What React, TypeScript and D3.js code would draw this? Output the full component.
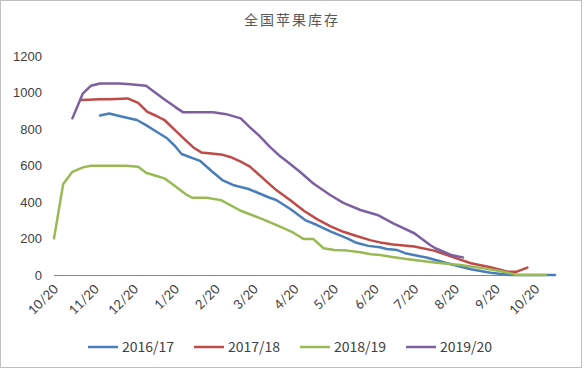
import React from 'react';
import * as d3 from 'd3';

type Pt = [string, number];

// 库存数据（万吨），日期按 2019/20 季度对齐
const s1617: Pt[] = [
  ['2019-11-24', 875], ['2019-12-01', 886], ['2019-12-11', 868], ['2019-12-22', 850],
  ['2019-12-29', 822], ['2020-01-06', 786], ['2020-01-14', 750], ['2020-01-20', 708],
  ['2020-01-25', 664], ['2020-02-08', 627], ['2020-02-17', 570], ['2020-02-25', 522],
  ['2020-03-04', 495], ['2020-03-16', 473], ['2020-03-22', 455], ['2020-04-01', 425],
  ['2020-04-06', 413], ['2020-04-17', 362], ['2020-04-28', 303], ['2020-05-07', 276],
  ['2020-05-18', 239], ['2020-05-30', 203], ['2020-06-06', 179], ['2020-06-15', 162],
  ['2020-06-24', 154], ['2020-06-29', 145], ['2020-07-07', 139], ['2020-07-14', 120],
  ['2020-07-30', 97], ['2020-08-14', 67], ['2020-09-01', 34], ['2020-09-16', 15],
  ['2020-10-01', 3], ['2020-11-04', 3],
];

const s1718: Pt[] = [
  ['2019-11-10', 959], ['2019-11-24', 963], ['2019-12-01', 964], ['2019-12-15', 968],
  ['2019-12-23', 944], ['2019-12-30', 895], ['2020-01-06', 872], ['2020-01-12', 850],
  ['2020-01-20', 795], ['2020-01-28', 740], ['2020-02-03', 700], ['2020-02-09', 673],
  ['2020-02-24', 662], ['2020-03-02', 648], ['2020-03-10', 622], ['2020-03-17', 595],
  ['2020-03-27', 531], ['2020-04-06', 467], ['2020-04-17', 410], ['2020-04-27', 354],
  ['2020-05-07', 308], ['2020-05-17', 270], ['2020-05-27', 239], ['2020-06-06', 216],
  ['2020-06-17', 192], ['2020-06-24', 181], ['2020-07-04', 170], ['2020-07-20', 158],
  ['2020-08-04', 136], ['2020-08-19', 99], ['2020-09-01', 67], ['2020-09-16', 45],
  ['2020-09-29', 21], ['2020-10-06', 21], ['2020-10-14', 43],
];

const s1819: Pt[] = [
  ['2019-10-20', 203], ['2019-10-27', 500], ['2019-11-03', 567], ['2019-11-11', 591],
  ['2019-11-17', 600], ['2019-12-14', 600], ['2019-12-23', 595], ['2019-12-29', 562],
  ['2020-01-06', 544], ['2020-01-12', 531], ['2020-01-19', 495], ['2020-01-28', 445],
  ['2020-02-02', 425], ['2020-02-13', 425], ['2020-02-24', 412], ['2020-03-10', 354],
  ['2020-03-27', 307], ['2020-04-09', 267], ['2020-04-19', 234], ['2020-04-27', 199],
  ['2020-05-04', 200], ['2020-05-12', 149], ['2020-05-20', 139], ['2020-05-30', 136],
  ['2020-06-09', 127], ['2020-06-17', 116], ['2020-06-24', 112], ['2020-07-02', 103],
  ['2020-07-14', 90], ['2020-07-20', 85], ['2020-08-06', 70], ['2020-08-24', 57],
  ['2020-09-11', 39], ['2020-09-26', 21], ['2020-10-06', 3], ['2020-10-28', 3],
];

const s1920: Pt[] = [
  ['2019-11-03', 859], ['2019-11-11', 996], ['2019-11-17', 1037], ['2019-11-24', 1050],
  ['2019-12-09', 1050], ['2019-12-17', 1045], ['2019-12-29', 1037], ['2020-01-11', 968],
  ['2020-01-20', 922], ['2020-01-26', 893], ['2020-02-18', 893], ['2020-02-28', 882],
  ['2020-03-10', 859], ['2020-03-17', 810], ['2020-03-24', 765], ['2020-04-01', 705],
  ['2020-04-08', 658], ['2020-04-14', 625], ['2020-04-24', 567], ['2020-05-04', 504],
  ['2020-05-17', 440], ['2020-05-27', 397], ['2020-06-09', 358], ['2020-06-22', 331],
  ['2020-07-04', 285], ['2020-07-20', 231], ['2020-08-01', 167], ['2020-08-05', 149],
  ['2020-08-17', 112], ['2020-08-26', 99],
];

const seriesNames = ['2016/17', '2017/18', '2018/19', '2019/20'];
const seriesColors = ['#4A7EBB', '#BE4B48', '#98B954', '#7D60A0'];
const allSeries = [s1617, s1718, s1819, s1920];

const tickDates = [
  '2019-10-20', '2019-11-20', '2019-12-20', '2020-01-20', '2020-02-20', '2020-03-20',
  '2020-04-20', '2020-05-20', '2020-06-20', '2020-07-20', '2020-08-20', '2020-09-20',
  '2020-10-20',
];
const tickLabels = ['10/20', '11/20', '12/20', '1/20', '2/20', '3/20', '4/20', '5/20', '6/20', '7/20', '8/20', '9/20', '10/20'];
const yTicks = [0, 200, 400, 600, 800, 1000, 1200];

const parse = d3.timeParse('%Y-%m-%d');

export default function App() {
  const width = 584;
  const height = 370;

  const x = d3.scaleTime()
    .domain([parse('2019-10-20')!, parse('2020-11-04')!])
    .range([54, 555]);
  const y = d3.scaleLinear().domain([0, 1200]).range([275.5, 56]);

  const line = d3.line<Pt>()
    .x(d => x(parse(d[0])!))
    .y(d => y(d[1]));

  const legendX = [88, 194, 300, 406];

  return (
    <svg width={width} height={height} style={{ position: 'absolute', left: 0, top: 0, background: '#fff' }}>
      <rect x={0.5} y={0.5} width={581} height={367} fill="#fff" stroke="#BFBFBF" />
      <text x={292} y={25} textAnchor="middle" fontFamily="'Noto Sans CJK SC', sans-serif" fontSize={14}
        fill="#595959" letterSpacing={2}>全国苹果库存</text>

      {yTicks.map(t => (
        <text key={t} x={42} y={y(t)} dy="0.35em" textAnchor="end"
          fontFamily="'Liberation Sans', Arial, sans-serif" fontSize={13} fill="#404040">{t}</text>
      ))}

      <line x1={54} x2={555} y1={275.5} y2={275.5} stroke="#868686" strokeWidth={1} />

      {tickDates.map((d, i) => {
        const tx = x(parse(d)!) + 5;
        return (
          <text key={i} transform={`translate(${tx},${290}) rotate(-45)`} textAnchor="end"
            fontFamily="Lato, 'Open Sans', sans-serif" fontSize={13} fill="#404040">{tickLabels[i]}</text>
        );
      })}

      {allSeries.map((s, i) => (
        <path key={i} d={line(s) || ''} fill="none" stroke={seriesColors[i]} strokeWidth={2.5}
          strokeLinejoin="round" strokeLinecap="round" />
      ))}

      {seriesNames.map((n, i) => (
        <g key={n} transform={`translate(${legendX[i]},347)`}>
          <line x1={0} x2={30} y1={0} y2={0} stroke={seriesColors[i]} strokeWidth={2.5} />
          <text x={34} y={0} dy="0.35em" fontFamily="'Noto Sans CJK SC', sans-serif" fontSize={14}
            fill="#404040">{n}</text>
        </g>
      ))}
    </svg>
  );
}
